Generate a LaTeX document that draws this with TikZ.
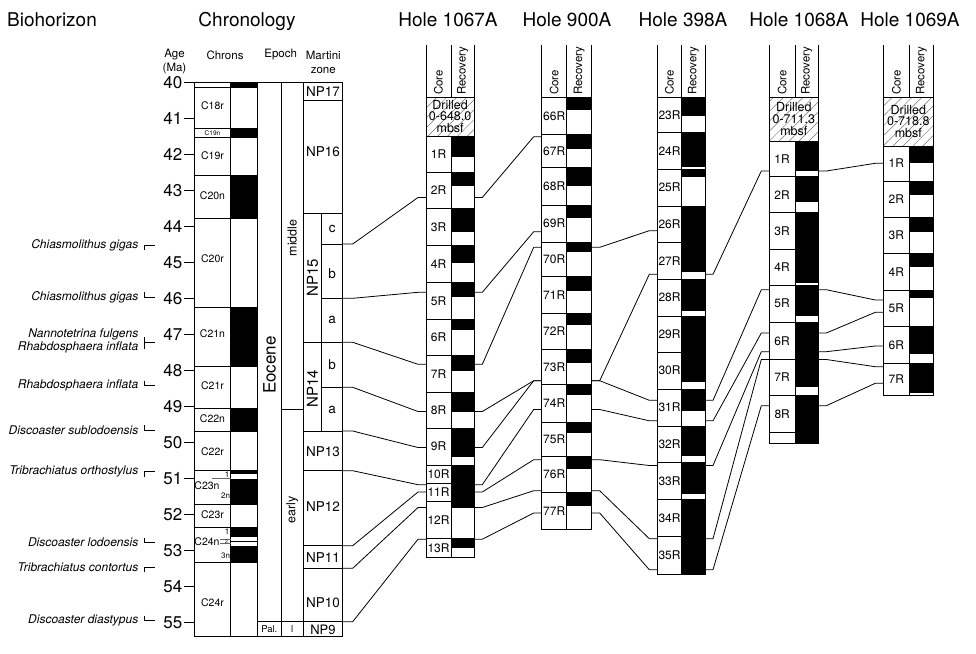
\documentclass[tikz,border=0pt]{standalone}
\usepackage{fontspec}
\setmainfont{TeX Gyre Heros}
\usetikzlibrary{patterns.meta}
\newcommand{\holehdr}[4]{%
  \draw[box] (#1,45) -- (#1,97) (#2,45) -- (#2,97) (#3,45) -- (#3,97) (#1,97) -- (#3,97);
  \node[colhdr] (#4core) at ({(#1+#2)/2},95) {Core};
  \node[colhdr] (#4rec) at ({(#2+#3)/2},95) {Recovery};
}
\newcommand{\recov}[3]{\foreach \qa/\qb in {#3} {\fill (#1,\qa) rectangle (#2,\qb);}}
\newcommand{\corebox}[5]{\foreach \qa/\qb/\ql in {#4} {%
  \draw[box] (#1,\qa) rectangle (#2,\qb);
  \draw[box] (#2,\qa) rectangle (#3,\qb);
  \node[corelab] (#5\ql) at ({(#1+#2)/2},{(\qa+\qb)/2}) {\ql};}}
\newcommand{\drilled}[6]{%
  \fill[white] (#1,#3) rectangle (#2,#4);
  \fill[hatch] (#1,#3) rectangle (#2,#4);
  \draw[box] (#1,#3) rectangle (#2,#4);
  \node[drl] (#6) at ({(#1+#2)/2},{(#3+#4)/2}) {Drilled\\#5\\mbsf};
}
\begin{document}
\begin{tikzpicture}[x=1pt,y=-1pt,
  ttl/.style={font=\fontsize{19}{22}\selectfont, inner sep=0, anchor=base},
  hdr/.style={font=\fontsize{11.5}{14}\selectfont, align=center, inner sep=0},
  agelab/.style={font=\fontsize{17}{18}\selectfont, anchor=east, inner sep=0},
  chronlab/.style={font=\fontsize{10.5}{12}\selectfont, inner sep=0},
  tinylab/.style={font=\fontsize{8}{9}\selectfont, inner sep=0},
  zonelab/.style={font=\fontsize{13.5}{15}\selectfont, inner sep=0},
  rotlab/.style={rotate=90, inner sep=0},
  biolab/.style={font=\fontsize{12}{13.3}\selectfont\itshape, anchor=east, align=right, inner sep=0},
  corelab/.style={font=\fontsize{12}{13}\selectfont, inner sep=0},
  colhdr/.style={font=\fontsize{11.5}{12}\selectfont, rotate=90, anchor=west, inner sep=0},
  drl/.style={font=\fontsize{12.5}{11.7}\selectfont, align=center, inner sep=0},
  box/.style={draw=black, line width=0.8pt},
  thinln/.style={draw=black, line width=0.6pt},
  conn/.style={draw=black, line width=0.8pt, line join=round},
  hatch/.style={pattern={Lines[angle=45,distance=7pt,line width=0.5pt]}, pattern color=black!55},
]
\useasboundingbox (0,0) rectangle (976,653);

% titles
\node[ttl] (tBio) at (52,27) {Biohorizon};
\node[ttl] (tChr) at (247,27) {Chronology};
\node[ttl] (t1067) at (448,27) {Hole 1067A};
\node[ttl] (t900) at (567,27) {Hole 900A};
\node[ttl] (t398) at (683,27) {Hole 398A};
\node[ttl] (t1068) at (799,27) {Hole 1068A};
\node[ttl] (t1069) at (910,27) {Hole 1069A};

% column headers
\node[hdr] (hAge) at (174.5,62) {Age\\(Ma)};
\node[hdr] (hChrons) at (225,55) {Chrons};
\node[hdr] (hEpoch) at (280.7,55) {Epoch};
\node[hdr] (hMart) at (323.3,62) {Martini\\zone};

% age scale
\foreach \a in {40,...,55} {
  \pgfmathsetmacro\yy{82.7+36*(\a-40)}
  \draw[box] (184,\yy) -- (194.3,\yy);
  \node[agelab] (age\a) at (182.5,\yy) {\a};
}

% chrons
\foreach \qa/\qb in {82.7/86.7,128.3/137.3,175/218.3,307.7/366.7,408.3/431.7,470.7/474,479/504,527.3/537.3,540.7/542.3,546/562.3}
  \fill (230.7,\qa) rectangle (257.7,\qb);
\draw[box] (194.3,82.7) rectangle (257.7,636.7);
\draw[box] (230.7,82.7) -- (230.7,636.7);
\foreach \yy in {87.3,128.3,137.3,175,218.3,307.7,366.7,408.3,431.7,470.7,504,527.3,562.3}
  \draw[box] (194.3,\yy) -- (257.7,\yy);
\draw[thinln, draw=black!60] (212,478) -- (230.7,478);
\draw[thinln, draw=black!60] (220,539.3) -- (230.7,539.3) (220,543.3) -- (230.7,543.3);
\node[chronlab] (cC18r) at (212.5,106) {C18r};
\node[font=\fontsize{6.5}{7}\selectfont, inner sep=0] (cC19n) at (212.5,132.8) {C19n};
\node[chronlab] (cC19r) at (212.5,155.5) {C19r};
\node[chronlab] (cC20n) at (212.5,195.5) {C20n};
\node[chronlab] (cC20r) at (212.5,258.5) {C20r};
\node[chronlab] (cC21n) at (212.5,334) {C21n};
\node[chronlab] (cC21r) at (212.5,386) {C21r};
\node[chronlab] (cC22n) at (212.5,419) {C22n};
\node[chronlab] (cC22r) at (212.5,451.5) {C22r};
\node[chronlab] (cC23n) at (207,486) {C23n};
\node[tinylab] (cC23na) at (227,474.5) {1};
\node[tinylab] (cC23nb) at (225.5,496) {2n};
\node[chronlab] (cC23r) at (212.5,515) {C23r};
\node[chronlab] (cC24n) at (207,541.5) {C24n};
\node[tinylab] (cC24na) at (227,532) {1};
\node[font=\fontsize{5}{6}\selectfont, inner sep=0] (cC24nb) at (226.5,541.4) {2};
\node[tinylab] (cC24nc) at (225.5,555.5) {3n};
\node[chronlab] (cC24r) at (212.5,603) {C24r};

% epoch
\draw[box] (257.7,82.7) rectangle (281,636.7);
\draw[box] (281,82.7) rectangle (303.3,636.7);
\draw[box] (257.7,621.7) -- (303.3,621.7);
\draw[box] (281,409) -- (303.3,409);
\node[rotlab, font=\fontsize{17}{18}\selectfont] (eEoc) at (269.5,365) {Eocene};
\node[rotlab, font=\fontsize{12.5}{13}\selectfont] (eMid) at (292.2,238) {middle};
\node[rotlab, font=\fontsize{12.5}{13}\selectfont] (eEarly) at (292.2,510) {early};
\node[font=\fontsize{9.5}{10}\selectfont, inner sep=0] (ePal) at (269.3,629.5) {Pal.};
\node[font=\fontsize{9.5}{10}\selectfont, inner sep=0] (eLate) at (292.2,629.5) {l};

% Martini zones
\draw[box] (303.3,82.7) rectangle (342.7,636.7);
\foreach \yy in {100.7,213.3,342.3,431,470.7,545.7,568.3,621.7}
  \draw[box] (303.3,\yy) -- (342.7,\yy);
\draw[box] (321.7,213.3) -- (321.7,431);
\foreach \yy in {244,298.3,387.3}
  \draw[box] (321.7,\yy) -- (342.7,\yy);
\node[zonelab] (zNP17) at (323,92) {NP17};
\node[zonelab] (zNP16) at (323,152) {NP16};
\node[zonelab, rotate=90, font=\fontsize{15}{16}\selectfont] (zNP15) at (312.5,277.5) {NP15};
\node[zonelab] (zNP15c) at (332.2,229) {c};
\node[zonelab] (zNP15b) at (332.2,274) {b};
\node[zonelab] (zNP15a) at (332.2,320.3) {a};
\node[zonelab, rotate=90, font=\fontsize{15}{16}\selectfont] (zNP14) at (312.5,389) {NP14};
\node[zonelab] (zNP14b) at (332.2,365) {b};
\node[zonelab] (zNP14a) at (332.2,409.5) {a};
\node[zonelab] (zNP13) at (323,451.5) {NP13};
\node[zonelab] (zNP12) at (323,507) {NP12};
\node[zonelab] (zNP11) at (323,557.3) {NP11};
\node[zonelab] (zNP10) at (323,603) {NP10};
\node[zonelab, font=\fontsize{13}{14}\selectfont] (zNP9) at (323,629.5) {NP9};

% biohorizons
\node[biolab] (b1) at (138.5,245) {Chiasmolithus gigas};
\node[biolab] (b2) at (138.5,297) {Chiasmolithus gigas};
\node[biolab] (b3) at (138.5,341) {Nannotetrina fulgens\\Rhabdosphaera inflata};
\node[biolab] (b4) at (138.5,385.7) {Rhabdosphaera inflata};
\node[biolab] (b5) at (138.5,430) {Discoaster sublodoensis};
\node[biolab] (b6) at (138.5,471.7) {Tribrachiatus orthostylus};
\node[biolab] (b7) at (138.5,542.7) {Discoaster lodoensis};
\node[biolab] (b8) at (138.5,567.3) {Tribrachiatus contortus};
\node[biolab] (b9) at (138.5,620.7) {Discoaster diastypus};
\foreach \yy in {245,471.7,567.3}
  \draw[thinln] (144.3,\yy+5) -- (144.3,\yy) -- (155,\yy);
\foreach \yy in {297,385.7,430,542.7,620.7}
  \draw[thinln] (144.3,\yy-5) -- (144.3,\yy) -- (155,\yy);
\draw[thinln] (144.3,336.7) -- (144.3,348.7) (144.3,342.7) -- (155,342.7);

% Hole 1067A
\holehdr{426}{451}{474.3}{hA}
\drilled{426}{474.3}{97}{136}{0-648.0}{dA}
\recov{451}{474.3}{136/157.3,172.3/185.7,208.3/231.7,245.7/263.3,282.3/297.3,319.3/330,355.7/370.7,392.3/412.3,428.3/456.7,465/507.7,538.3/548.3}
\corebox{426}{451}{474.3}{136/172.3/1R,172.3/208.3/2R,208.3/245.7/3R,245.7/282.3/4R,282.3/319.3/5R,319.3/355.7/6R,355.7/392.3/7R,392.3/428.3/8R,428.3/465/9R,465/483.3/10R,483.3/501.7/11R,501.7/538.3/12R,538.3/557.7/13R}{hA}

% Hole 900A
\holehdr{541.7}{566.7}{591.7}{hB}
\recov{566.7}{591.7}{97.3/110,134.3/149.3,167.7/185.7,205/217.7,242.3/252.3,276.7/291,313.3/325,349.3/362.7,384.3/395,422.3/432.7,456.7/469.3,492.7/506}
\corebox{541.7}{566.7}{591.7}{97.3/134.3/66R,134.3/167.7/67R,167.7/205/68R,205/242.3/69R,242.3/276.7/70R,276.7/313.3/71R,313.3/349.3/72R,349.3/384.3/73R,384.3/422.3/74R,422.3/456.7/75R,456.7/492.7/76R,492.7/529/77R}{hB}

% Hole 398A
\holehdr{657.3}{681.7}{705}{hC}
\recov{681.7}{705}{97.3/116,132.3/167.3,169.3/176.7,206/271.7,279/310.7,316/381.7,389/411,426/456,462.7/494,499.3/574}
\corebox{657.3}{681.7}{705}{97.3/132.3/23R,132.3/169.3/24R,169.3/206/25R,206/242.7/26R,242.7/279/27R,279/316/28R,316/352.3/29R,352.3/389/30R,389/426/31R,426/462.7/32R,462.7/499.3/33R,499.3/536.7/34R,536.7/574/35R}{hC}

% Hole 1068A
\holehdr{769.3}{795}{818.3}{hD}
\drilled{769.3}{818.3}{97}{141}{0-711.3}{dD}
\recov{795}{818.3}{141/171,176.7/201.7,212.7/283.3,285/316,322.3/386.7,395.7/443.3}
\corebox{769.3}{795}{818.3}{141/176.7/1R,176.7/212.7/2R,212.7/249.3/3R,249.3/285/4R,285/322.3/5R,322.3/359.3/6R,359.3/395.7/7R}{hD}
\draw[box] (769.3,395.7) rectangle (795,432.7);
\draw[box] (769.3,432.7) rectangle (795,443.3);
\draw[box] (795,395.7) rectangle (818.3,443.3);
\node[corelab] (hD8R) at (782.2,414.2) {8R};

% Hole 1069A
\holehdr{883.3}{909.3}{933.3}{hE}
\drilled{883.3}{933.3}{97}{146}{0-718.8}{dE}
\recov{909.3}{933.3}{146/162.7,181/195,217.7/231.7,253.3/267.3,290/298.3,326.7/354.3,363.3/392.7}
\corebox{883.3}{909.3}{933.3}{146/181/1R,181/217.7/2R,217.7/253.3/3R,253.3/290/4R,290/326.7/5R,326.7/363.3/6R,363.3/395.7/7R}{hE}

% correlation lines
\foreach \i/\m/\a in {1/244/197.5,2/298.3/292.3,3/342.3/364.3,4/387.3/411.5,5/431/447.5,6/470.7/484.7,7/545.7/492,8/568.3/507.5,9/621.7/539.2} {
  \coordinate (mz\i) at (342.7,\m);
  \coordinate (aL\i) at (426,\a);
  \draw[conn] (mz\i) -- ++(10,0) -- ([xshift=-8pt]aL\i) -- (aL\i);
}
\foreach \i/\a/\b in {1/197.5/136.7,2/292.3/231.7,3/364.3/247.3,4/411.5/380.7,5/447.5/380.7,6/484.7/409.5,7/492/459.7,8/507.5/490.7,9/539.2/513} {
  \coordinate (aR\i) at (474.3,\a);
  \coordinate (bL\i) at (541.7,\b);
  \draw[conn] (aR\i) -- ++(8,0) -- ([xshift=-8pt]bL\i) -- (bL\i);
}
\foreach \i/\b/\c in {3/247.3/230.7,4/380.7/274.3,5/380.7/400.3,6/409.5/420.8,7/459.7/465.5,8/490.7/538.7,9/513/569.7} {
  \coordinate (bR\i) at (591.7,\b);
  \coordinate (cL\i) at (657.3,\c);
  \draw[conn] (bR\i) -- ++(8,0) -- ([xshift=-8pt]cL\i) -- (cL\i);
}
\foreach \i/\c/\d in {4/274.3/171,5/400.3/289.7,6/420.8/333,7/465.5/351.7,8/538.7/359.5,9/569.7/405.7} {
  \coordinate (cR\i) at (705,\c);
  \coordinate (dL\i) at (769.3,\d);
  \draw[conn] (cR\i) -- ++(8,0) -- ([xshift=-8pt]dL\i) -- (dL\i);
}
\foreach \i/\d/\e in {4/171/163.3,5/289.7/300,6/333/312.3,7/351.7/346,8/359.5/366.7,9/405.7/383.3} {
  \coordinate (dR\i) at (818.3,\d);
  \coordinate (eL\i) at (883.3,\e);
  \draw[conn] (dR\i) -- ++(8,0) -- ([xshift=-8pt]eL\i) -- (eL\i);
}
\end{tikzpicture}
\end{document}
